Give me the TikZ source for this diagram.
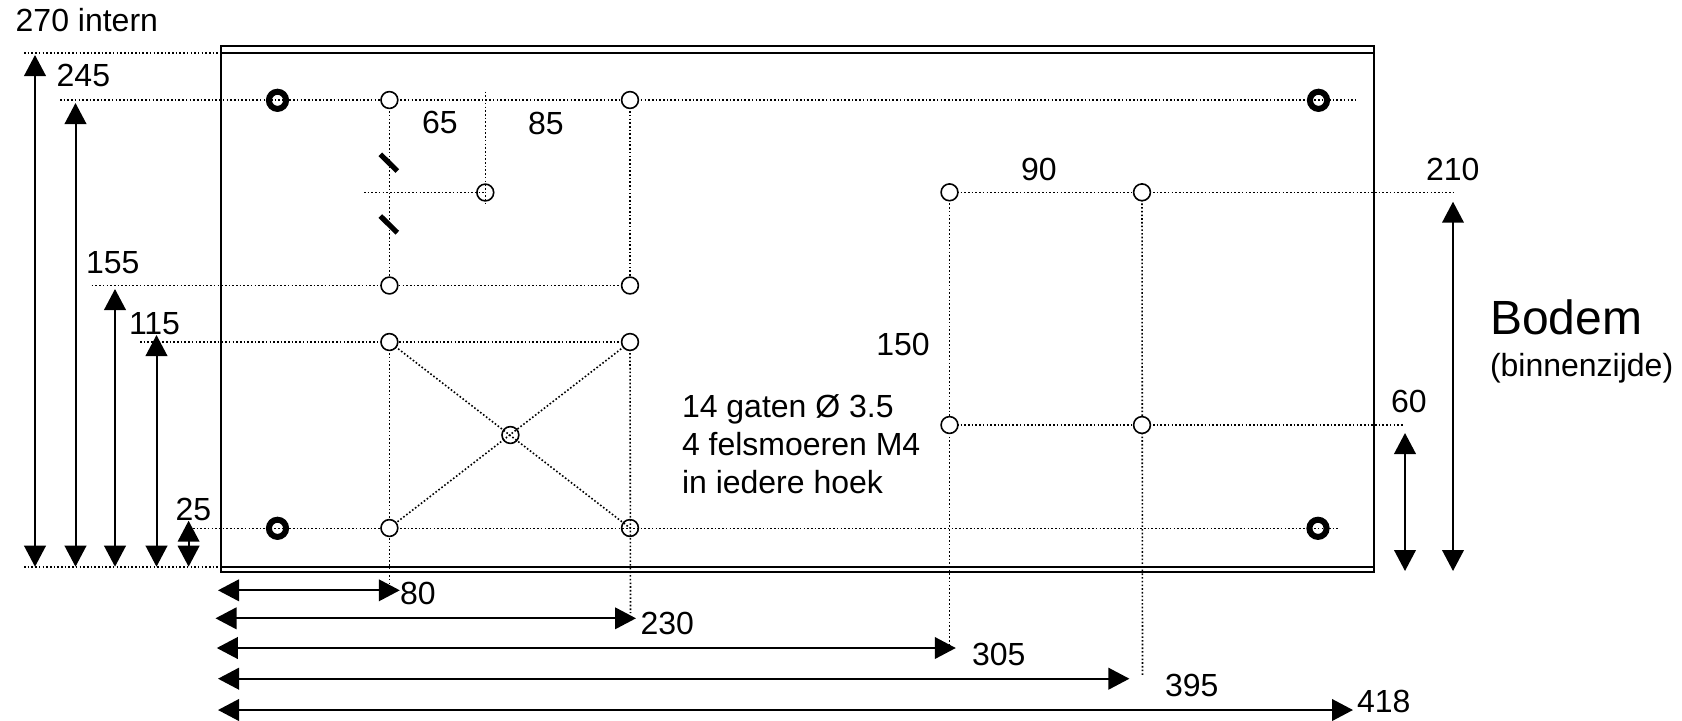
\documentclass[tikz,border=0pt]{standalone}
\usepackage{fontspec}
\setmainfont{Liberation Sans}
\usetikzlibrary{arrows.meta,backgrounds}
\tikzstyle{hole}=[circle, draw=black, fill=white, line width=0.8pt, minimum size=8.4pt, inner sep=0pt]
\tikzstyle{holeopen}=[circle, draw=black, line width=0.8pt, minimum size=8.4pt, inner sep=0pt]
\tikzstyle{ring}=[circle, draw=black, line width=3pt, minimum size=8.6pt, inner sep=0pt]
\tikzstyle{maat}=[anchor=base west, inner sep=0pt, xshift=-0.2pt, font=\fontsize{16}{19}\selectfont]
\tikzstyle{titel}=[anchor=base west, inner sep=0pt, xshift=-0.2pt, font=\fontsize{24}{28}\selectfont]
\tikzstyle{hulp}=[line width=0.8pt, dash pattern=on 0.8pt off 1.05pt]
\tikzstyle{pijl}=[line width=1pt, {Triangle[length=10.5pt,width=10.8pt]}-{Triangle[length=10.5pt,width=10.8pt]}]
\tikzstyle{kant}=[line width=1.1pt]
\tikzstyle{streep}=[line width=2.6pt]

\begin{document}
\begin{tikzpicture}[x=0.5pt,y=-0.5pt]
\useasboundingbox (0,0) rectangle (1682,720);
%Corner holes
\node[ring] (r1) at (277.5,100.3){};
\node[ring] (r2) at (1318.5,100.3){};
\node[ring] (r3) at (277.5,528.3){};
\node[ring] (r4) at (1318,528.3){};
%Holes left
\node[hole] (h1) at (389.4,100){};
\node[hole] (h2) at (630,100){};
\node[holeopen] (h3) at (485.3,192.5){};
\node[hole] (h4) at (389.4,285.5){};
\node[hole] (h5) at (630,285.5){};
\node[hole] (h6) at (389.4,342){};
\node[hole] (h7) at (630,342){};
\node[holeopen] (h8) at (510.4,435){};
\node[hole] (h9) at (389.4,528){};
\node[holeopen] (h10) at (630,528){};
%Holes right
\node[hole] (h11) at (949.5,192.3){};
\node[hole] (h12) at (1142,192.3){};
\node[hole] (h13) at (949.5,425){};
\node[hole] (h14) at (1142,425){};
%Free ends
\coordinate (t1) at (24,52.7);
\coordinate (t2) at (348,52.7);
\coordinate (b1) at (24,566.7);
\coordinate (b2) at (221,566.7);
\coordinate (e1) at (60,100);
\coordinate (e2) at (1356,100);
\coordinate (e3) at (485.3,91.7);
\coordinate (e4) at (485.3,204);
\coordinate (e5) at (364,192.5);
\coordinate (e6) at (91.7,285.5);
\coordinate (e7) at (140,342);
\coordinate (e8) at (193,528.3);
\coordinate (e9) at (1339.5,528.3);
\coordinate (e10) at (389.4,585);
\coordinate (e11) at (630.5,613);
\coordinate (e12) at (949.5,648);
\coordinate (e13) at (1142.5,676.7);
\coordinate (e14) at (1455,192.3);
\coordinate (e15) at (1404,425);
%Frame
\draw[kant] (221,46) rectangle (1374,571.7);
\draw[kant] (221,52.7) -- (1374,52.7);
\draw[kant] (221,566.7) -- (1374,566.7);
%Ticks
\draw[streep] (380.3,154.3) -- (397.3,171);
\draw[streep] (380.3,216) -- (397.3,232.7);
%Arrows left
\draw[pijl] (35,55) -- (35,566.7);
\draw[pijl] (75.5,103) -- (75.5,566.7);
\draw[pijl] (115,289) -- (115,566.7);
\draw[pijl] (156.5,335) -- (156.5,566.7);
\draw[pijl] (188.6,520.7) -- (188.6,566.7);
%Arrows bottom
\draw[pijl] (218,590.3) -- (399.8,590.3);
\draw[pijl] (215.5,618.3) -- (636,618.3);
\draw[pijl] (216.8,648) -- (955.8,648);
\draw[pijl] (218,678.7) -- (1129.4,678.7);
\draw[pijl] (218,710) -- (1353,710);
%Arrows right
\draw[pijl] (1405,433) -- (1405,571);
\draw[pijl] (1453,201.7) -- (1453,571);
%Labels
\node[maat] (l270) at (15.7,31.7){270 intern};
\node[maat] (l245) at (56.7,86.7){245};
\node[maat] (l155) at (86,273){155};
\node[maat] (l115) at (129,334){115};
\node[maat] (l25) at (175.6,520){25};
\node[maat] (l80) at (400,604){80};
\node[maat] (l230) at (640.5,634){230};
\node[maat] (l305) at (972,665.5){305};
\node[maat] (l395) at (1165,696){395};
\node[maat] (l418) at (1357,712){418};
\node[maat] (l65) at (422,133){65};
\node[maat] (l85) at (528,134.5){85};
\node[maat] (l90) at (1021,180){90};
\node[maat] (l210) at (1426,180){210};
\node[maat] (l150) at (876.4,355.5){150};
\node[maat] (l60) at (1391,412){60};
\node[maat] (g1) at (682,417){14 gaten Ø 3.5};
\node[maat] (g2) at (682,455){4 felsmoeren M4};
\node[maat] (g3) at (682,493.5){in iedere hoek};
\node[titel] (bodem) at (1490,334){Bodem};
\node[maat] (zijde) at (1490,376){(binnenzijde)};
%background
\begin{scope}[on background layer]
\draw[hulp] (t1) -- (t2);
\draw[hulp] (b1) -- (b2);
\draw[hulp] (e1) -- (e2);
\draw[hulp] (e3) -- (e4);
\draw[hulp] (e5) -- (h3.center);
\draw[hulp] (e6) -- (h5.center);
\draw[hulp] (e7) -- (h7.center);
\draw[hulp] (e8) -- (e9);
\draw[hulp] (h1.center) -- (h4.center);
\draw[hulp] (h2.center) -- (h5.center);
\draw[hulp] (h6.center) -- (e10);
\draw[hulp] (h7.center) -- (e11);
\draw[hulp] (h6.center) -- (h10.center);
\draw[hulp] (h7.center) -- (h9.center);
\draw[hulp] (h11.center) -- (e14);
\draw[hulp] (h13.center) -- (e15);
\draw[hulp] (h11.center) -- (e12);
\draw[hulp] (h12.center) -- (e13);
\end{scope}
\end{tikzpicture}
\end{document}
